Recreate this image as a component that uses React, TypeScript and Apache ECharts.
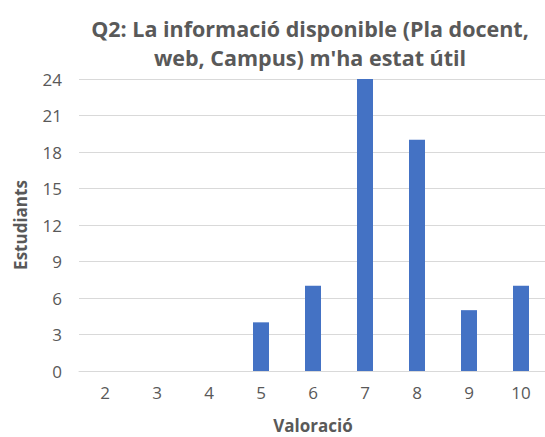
import React, { useEffect, useRef } from "react";
import * as echarts from "echarts";

const categories = ["2", "3", "4", "5", "6", "7", "8", "9", "10"];
const values = [0, 0, 0, 4, 7, 24, 19, 5, 7];
const titleLines = ["Q2: La informació disponible (Pla docent,", "web, Campus) m'ha estat útil"];
const xName = "Valoració";
const yName = "Estudiants";

const FONT = "'Open Sans', 'DejaVu Sans', sans-serif";
const GRAY = "#595959";

export default function App() {
  const ref = useRef<HTMLDivElement>(null);
  useEffect(() => {
    if (!ref.current) return;
    const chart = echarts.init(ref.current, null, { renderer: "svg" });
    chart.setOption({
      animation: false,
      backgroundColor: "#ffffff",
      textStyle: { fontFamily: FONT },
      title: {
        text: titleLines.join("\n"),
        left: 305,
        top: 9,
        textAlign: "center",
        textStyle: {
          fontFamily: FONT,
          fontSize: 21.5,
          fontWeight: "bold",
          color: GRAY,
          lineHeight: 29,
        },
      },
      grid: {
        left: 79,
        top: 79,
        width: 468,
        height: 292,
        containLabel: false,
        outerBoundsMode: "none",
      },
      xAxis: {
        type: "category",
        data: categories,
        name: xName,
        nameLocation: "middle",
        nameGap: 44,
        nameTextStyle: { fontFamily: FONT, fontSize: 17, fontWeight: "bold", color: GRAY, lineHeight: 20 },
        axisLine: { lineStyle: { color: "#d9d9d9" } },
        axisTick: { show: false },
        axisLabel: { color: GRAY, fontSize: 17, margin: 13, fontFamily: FONT },
      },
      yAxis: {
        type: "value",
        min: 0,
        max: 24,
        interval: 3,
        name: yName,
        nameLocation: "middle",
        nameGap: 50,
        nameTextStyle: { fontFamily: FONT, fontSize: 17, fontWeight: "bold", color: GRAY },
        axisLine: { show: false },
        axisTick: { show: false },
        axisLabel: { color: GRAY, fontSize: 17, margin: 17, fontFamily: FONT },
        splitLine: { lineStyle: { color: "#d9d9d9", width: 1 } },
      },
      series: [
        {
          type: "bar",
          data: values,
          barWidth: 16,
          itemStyle: { color: "#4472c4" },
        },
      ],
    });
    return () => chart.dispose();
  }, []);
  return (
    <div
      ref={ref}
      style={{ position: "fixed", left: 0, top: 0, width: 545, height: 437 }}
    />
  );
}
